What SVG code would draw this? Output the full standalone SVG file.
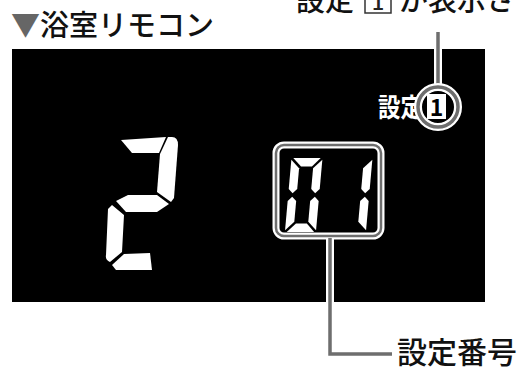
<svg xmlns="http://www.w3.org/2000/svg" width="521" height="367" viewBox="0 0 521 367">
<style>
.jp{font-family:"Noto Sans CJK JP","Noto Sans",sans-serif;font-weight:500;}
.b{font-weight:700;}
.lbl{font-size:29px;fill:#111;}
.seg{fill:#fff;}
.lead{fill:none;stroke:#6e6e6e;stroke-width:3.5;}
.halo{fill:none;stroke:#fff;stroke-width:8;}
</style>
<defs>
<polygon id="sA" points="1.8,0 29.2,0 21.2,8.5 10.3,8.5"/>
<polygon id="sB" points="31,1.8 31,31 26.8,35.2 22.5,31 22.5,10.3"/>
<polygon id="sC" points="31,43 31,72.2 22.5,63.7 22.5,43 26.8,38.8"/>
<polygon id="sD" points="1.8,74 29.2,74 21.2,65.5 10.3,65.5"/>
<polygon id="sE" points="0,43 4.2,38.8 8.5,43 8.5,63.7 0,72.2"/>
<polygon id="sF" points="0,1.8 8.5,10.3 8.5,31 4.2,35.2 0,31"/>
</defs>
<rect width="521" height="367" fill="#fff"/>
<g id="title">
<text class="jp" x="11" y="36" font-size="29" fill="#111"><tspan fill="#666">▼</tspan>浴室リモコン</text>
</g>
<g id="note-top">
<text class="jp lbl" x="296" y="11">設定</text>
<rect x="365" y="-14" width="26" height="27" fill="none" stroke="#333" stroke-width="1.5"/>
<text class="jp" x="378" y="10" font-size="22" fill="#222" text-anchor="middle">1</text>
<text class="jp lbl" x="399" y="11">が表示さ</text>
</g>
<g id="panel">
<rect x="12" y="49" width="473" height="253" fill="#000"/>
</g>
<g id="digit-2" class="seg">
<polygon points="121,140 166,137 159,153 132,153"/>
<path d="M168,137 L172,137 Q178,137 178,145 L174,198 L171,202 L157,192 L160,154 Z"/>
<polygon points="116,201 128,195 157,195 169,204 157,212 126,212"/>
<path d="M112,205 L124,215 L122,252 L110,262 Q105,260 106,255 L108,209 Z"/>
<polygon points="112,265 124,254 150,253 152,270 116,270"/>
</g>
<g id="setting-number">
<g class="seg" transform="translate(291.5,158) skewX(-5.1)">
<use href="#sA"/><use href="#sB"/><use href="#sC"/><use href="#sD"/><use href="#sE"/><use href="#sF"/>
</g>
<g class="seg" transform="translate(341.5,158) skewX(-5.1)">
<use href="#sB"/><use href="#sC"/>
</g>
<rect x="276" y="145" width="105" height="91" rx="8" fill="none" stroke="#fff" stroke-width="7"/>
<rect x="276" y="145" width="105" height="91" rx="8" fill="none" stroke="#6e6e6e" stroke-width="2.5"/>
</g>
<g id="setting-indicator">
<text class="jp b" x="378" y="117" font-size="26" fill="#fff" textLength="45" lengthAdjust="spacingAndGlyphs">設定</text>
<rect x="427" y="94" width="19" height="25" fill="#fff"/>
<text class="jp b" x="436.5" y="116" font-size="23" fill="#000" text-anchor="middle">1</text>
</g>
<g id="connectors">
<line class="halo" x1="438" y1="49" x2="438" y2="87"/>
<line class="lead" x1="438" y1="32" x2="438" y2="87"/>
<circle class="halo" cx="438" cy="107" r="20" stroke-width="7"/>
<circle class="lead" cx="438" cy="107" r="20" stroke-width="3"/>
<polyline class="halo" points="330,239 330,302"/>
<polyline class="lead" points="330,238 330,354 392,354"/>
</g>
<g id="label-bottom">
<text class="jp" x="397" y="363" font-size="30" fill="#111">設定番号</text>
</g>
</svg>
